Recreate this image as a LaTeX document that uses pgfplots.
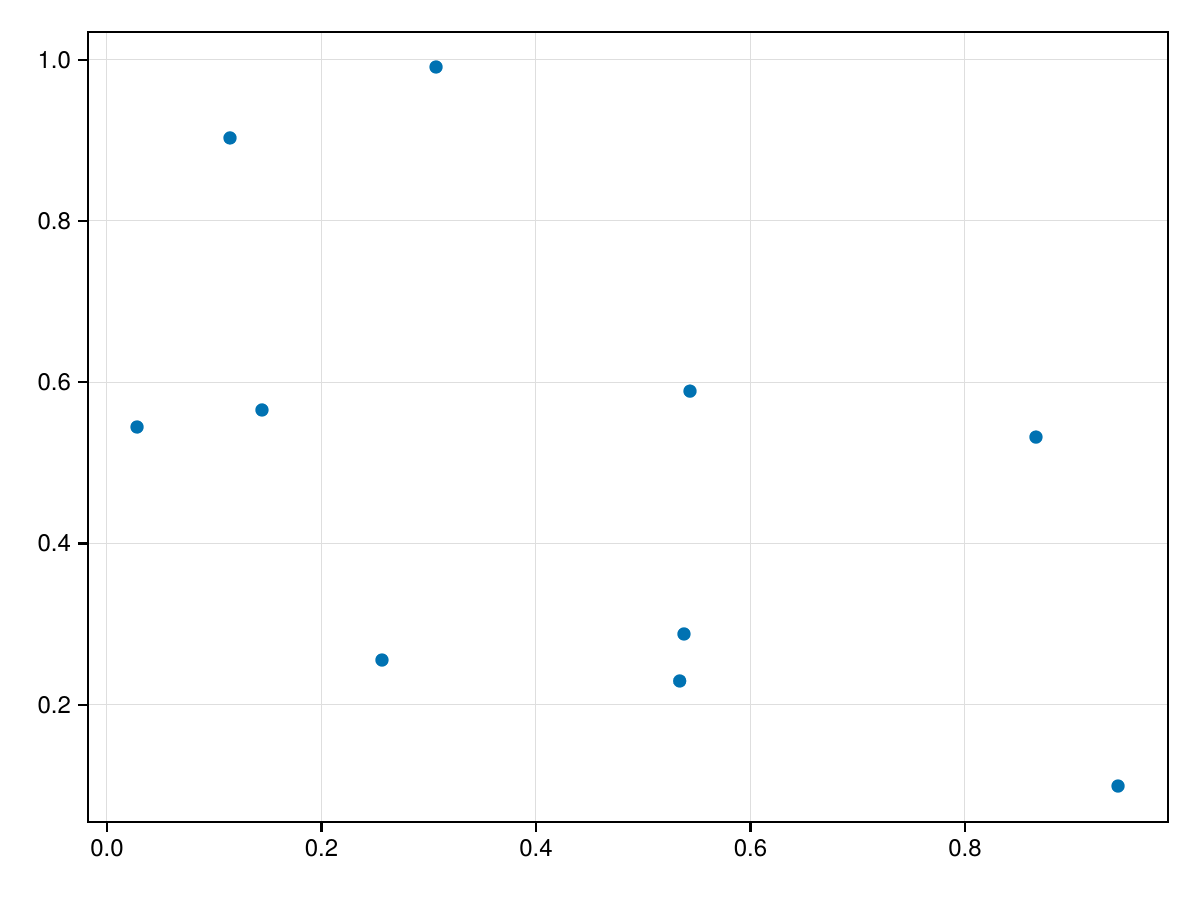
\documentclass[border=0pt]{standalone}
\usepackage{pgfplots}
\pgfplotsset{compat=1.18}
\usepackage{fontspec}
\setmainfont{TeX Gyre Heros}
\definecolor{wblue}{RGB}{0,114,178}
\begin{document}
\begin{tikzpicture}
\path[use as bounding box] (-44pt,-39pt) rectangle (556pt,411pt);
\begin{axis}[
  at={(0pt,0pt)}, anchor=south west,
  scale only axis, width=540pt, height=395pt,
  xmin=-0.0177, xmax=0.9893, ymin=0.0546, ymax=1.0344,
  xtick={0,0.2,0.4,0.6,0.8}, ytick={0.2,0.4,0.6,0.8,1.0},
  xticklabels={0.0,0.2,0.4,0.6,0.8}, yticklabels={0.2,0.4,0.6,0.8,1.0},
  xmajorgrids, ymajorgrids, major grid style={black!13, line width=0.5pt},
  axis line style={line width=1pt},
  tick align=outside,
  xtick pos=bottom, ytick pos=left,
  major tick length=5pt,
  every tick/.append style={black, line width=1.2pt},
  ticklabel style={font=\fontsize{12}{14}\selectfont},
  /pgf/number format/assume math mode=true,
]
\addplot[only marks, color=wblue, mark=*, mark size=3.25pt, mark options={draw=wblue, fill=wblue, line width=0.1pt}] coordinates {
(0.028,0.5445) (0.1147,0.903) (0.1445,0.5656) (0.2564,0.2555) (0.3068,0.991)
(0.5436,0.589) (0.538,0.2878) (0.534,0.2295) (0.8662,0.532) (0.9427,0.0992)
};
\end{axis}
\end{tikzpicture}
\end{document}
